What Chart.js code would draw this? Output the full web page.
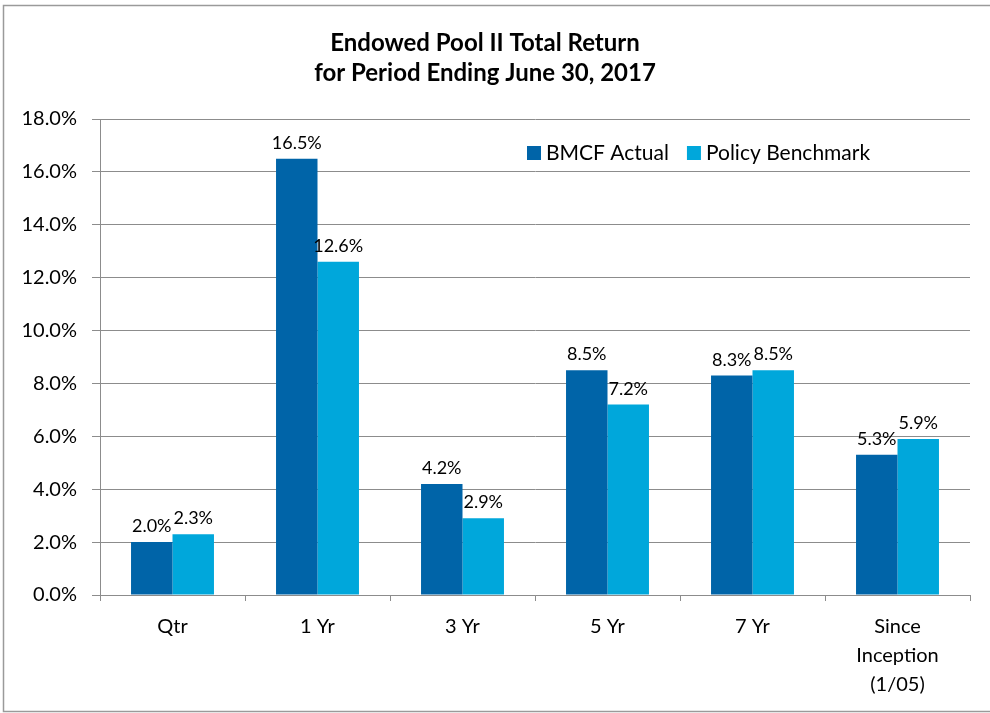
<!DOCTYPE html>
<html>
<head>
  <title>Endowed Pool II Total Return</title>
  <script src="https://cdn.jsdelivr.net/npm/chart.js"></script>
  <style>
    html, body { margin: 0; padding: 0; background: #fff; }
    #wrap { position: absolute; left: 0; top: 0; width: 990px; height: 713px; }
  </style>
</head>
<body>
  <div id="wrap"><canvas id="returnChart"></canvas></div>

  <script>
    // Periods and returns (%)
    var periods = ['Qtr', '1 Yr', '3 Yr', '5 Yr', '7 Yr', ['Since', 'Inception', '(1/05)']];
    var bmcfActual = [2.0, 16.5, 4.2, 8.5, 8.3, 5.3];
    var policyBenchmark = [2.3, 12.6, 2.9, 7.2, 8.5, 5.9];
    var yTicks = [0, 2, 4, 6, 8, 10, 12, 14, 16, 18];

    var fontFamily = 'Lato, "Open Sans", sans-serif';
    var lineGray = '#8c8c8c';

    // frame round the chart, value labels and the legend inside the plot
    var excelBits = {
      id: 'excelBits',
      beforeDraw: function(chart) {
        var c = chart.ctx;
        c.save();
        c.strokeStyle = '#9a9a9a';
        c.lineWidth = 1.5;
        c.beginPath();
        c.moveTo(990, 5.5);
        c.lineTo(3.5, 5.5);
        c.lineTo(3.5, 711.5);
        c.lineTo(990, 711.5);
        c.stroke();
        c.restore();
      },
      afterDatasetsDraw: function(chart) {
        var c = chart.ctx;
        c.save();
        c.font = '18px ' + fontFamily;
        c.fillStyle = '#000';
        c.textAlign = 'center';
        c.textBaseline = 'alphabetic';
        chart.data.datasets.forEach(function(ds, i) {
          chart.getDatasetMeta(i).data.forEach(function(bar, j) {
            c.fillText(ds.data[j].toFixed(1) + '%', bar.x, bar.y - 10);
          });
        });

        // legend
        var x = 527, y = 160;
        c.textAlign = 'left';
        c.font = '21px ' + fontFamily;
        chart.data.datasets.forEach(function(ds) {
          c.fillStyle = ds.backgroundColor;
          c.fillRect(x, 146, 14, 14);
          c.fillStyle = '#000';
          c.fillText(ds.label, x + 19, y);
          x += 19 + c.measureText(ds.label).width + 18;
        });
        c.restore();
      }
    };

    var ctx = document.getElementById('returnChart').getContext('2d');
    var chart = new Chart(ctx, {
      type: 'bar',
      data: {
        labels: periods,
        datasets: [
          { label: 'BMCF Actual', data: bmcfActual, backgroundColor: '#0064a8' },
          { label: 'Policy Benchmark', data: policyBenchmark, backgroundColor: '#00a7db' }
        ]
      },
      options: {
        responsive: true,
        maintainAspectRatio: false,
        animation: false,
        categoryPercentage: 0.572,
        barPercentage: 1.0,
        layout: { padding: { left: 0, right: 20, top: 0, bottom: 0 } },
        plugins: {
          legend: { display: false },
          tooltip: { enabled: false },
          title: {
            display: true,
            text: ['Endowed Pool II Total Return', 'for Period Ending June 30, 2017'],
            color: '#000',
            font: { family: fontFamily, size: 24, weight: 'bold', lineHeight: 1.25 },
            padding: { top: 28, bottom: 31 }
          }
        },
        scales: {
          x: {
            offset: true,
            afterFit: function(axis) { axis.height = 118; },
            grid: {
              offset: true,
              drawOnChartArea: false,
              drawTicks: true,
              tickLength: 6,
              color: lineGray
            },
            border: { color: lineGray },
            ticks: {
              color: '#000',
              padding: 11,
              font: { family: fontFamily, size: 20, lineHeight: 1.45 },
              maxRotation: 0
            }
          },
          y: {
            min: 0,
            max: 18,
            afterFit: function(axis) { axis.width = 100; },
            afterBuildTicks: function(axis) {
              axis.ticks = yTicks.map(function(v) { return { value: v }; });
            },
            grid: { color: lineGray, tickLength: 8 },
            border: { color: lineGray },
            ticks: {
              color: '#000',
              padding: 15,
              font: { family: fontFamily, size: 20 },
              callback: function(v) { return v.toFixed(1) + '%'; }
            }
          }
        }
      },
      plugins: [excelBits]
    });
  </script>
</body>
</html>
